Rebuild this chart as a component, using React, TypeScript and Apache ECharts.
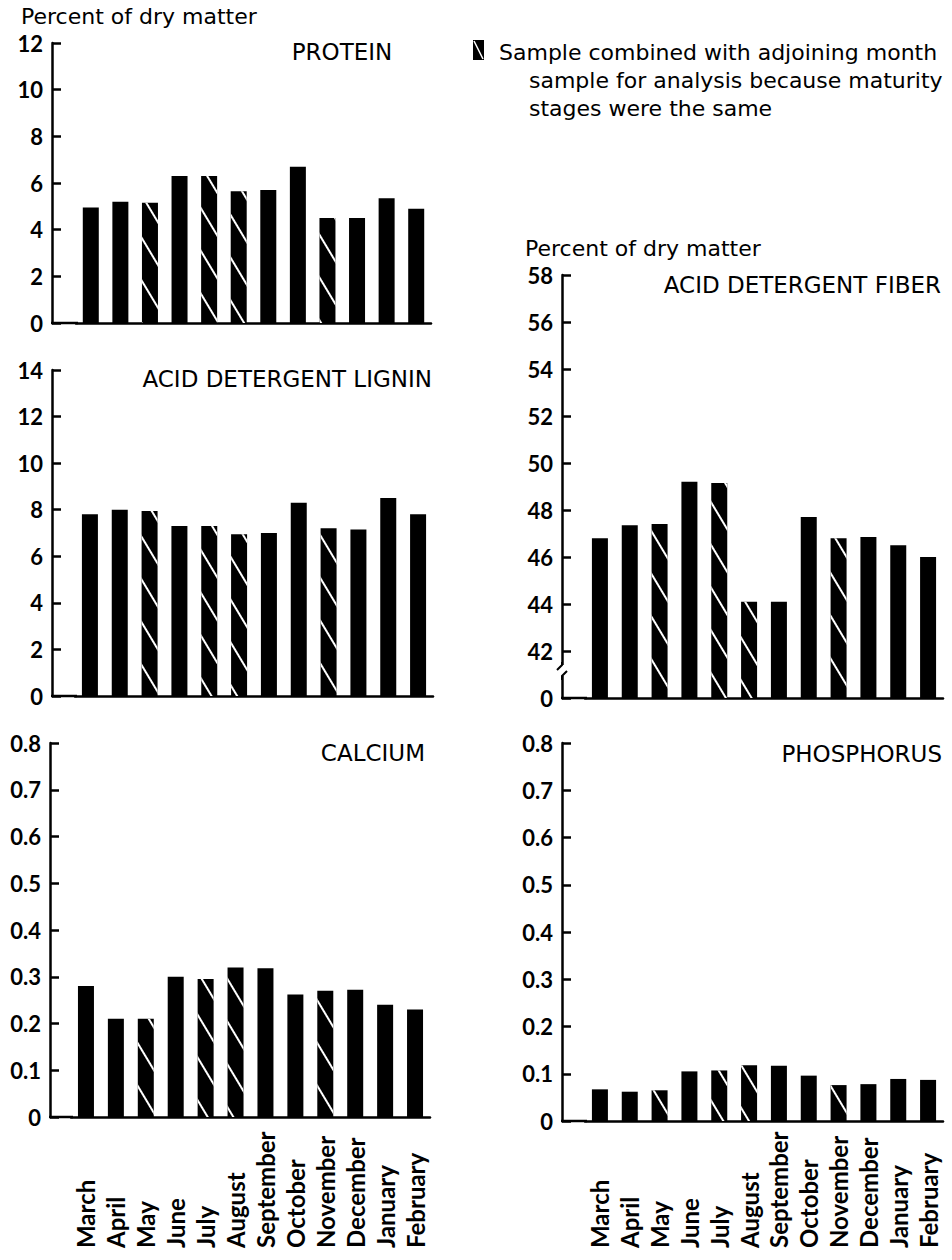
import React, { useEffect, useRef } from "react";
import * as echarts from "echarts";

const months = ["March", "April", "May", "June", "July", "August", "September", "October", "November", "December", "January", "February"];
const combinedMonths = ["May", "July", "August", "November"];

const proteinValues = [4.95, 5.2, 5.15, 6.3, 6.3, 5.65, 5.7, 6.7, 4.5, 4.5, 5.35, 4.9];
const ligninValues = [7.8, 8.0, 7.95, 7.3, 7.3, 6.95, 7.0, 8.3, 7.2, 7.15, 8.5, 7.8];
const calciumValues = [0.28, 0.21, 0.21, 0.3, 0.295, 0.32, 0.318, 0.262, 0.27, 0.272, 0.24, 0.23];
const fiberValues = [46.8, 47.35, 47.4, 49.2, 49.15, 44.1, 44.1, 47.7, 46.8, 46.85, 46.5, 46.0];
const phosphorusValues = [0.067, 0.062, 0.065, 0.105, 0.107, 0.118, 0.117, 0.096, 0.076, 0.078, 0.089, 0.087];

const legendLines = [
  "Sample combined with adjoining month",
  "sample for analysis because maturity",
  "stages were the same",
];
const unitLabel = "Percent of dry matter";

const TEXT_FONT = "'DejaVu Sans', sans-serif";
const NUM_FONT = "Lato, 'DejaVu Sans', sans-serif";

type Panel = {
  title: string;
  values: number[];
  min: number;
  max: number;
  interval: number;
  left: number;
  width: number;
  top: number;
  height: number;
  axisX: number;
  months: boolean;
  monthMargin?: number;
  titleX: number;
  titleY: number;
  titleAlign: string;
  zeroAt?: number;
  decimals: number;
};

const panels: Panel[] = [
  { title: "PROTEIN", values: proteinValues, min: 0, max: 12, interval: 2, left: 76, width: 355, top: 43, height: 280, axisX: 52, months: false, titleX: 342, titleY: 52, titleAlign: "center", decimals: 0 },
  { title: "ACID DETERGENT LIGNIN", values: ligninValues, min: 0, max: 14, interval: 2, left: 75, width: 358, top: 370, height: 326, axisX: 52, months: false, titleX: 432, titleY: 379, titleAlign: "right", decimals: 0 },
  { title: "CALCIUM", values: calciumValues, min: 0, max: 0.8, interval: 0.1, left: 71, width: 359, top: 743, height: 374, axisX: 50, months: true, monthMargin: 131, titleX: 425, titleY: 753, titleAlign: "right", decimals: 1 },
  { title: "ACID DETERGENT FIBER", values: fiberValues, min: 40, max: 58, interval: 2, left: 585, width: 358, top: 275, height: 423, axisX: 562, months: false, titleX: 941, titleY: 285, titleAlign: "right", zeroAt: 40, decimals: 0 },
  { title: "PHOSPHORUS", values: phosphorusValues, min: 0, max: 0.8, interval: 0.1, left: 585, width: 358, top: 743, height: 378, axisX: 562, months: true, monthMargin: 127, titleX: 942, titleY: 754, titleAlign: "right", decimals: 1 },
];

const hatch = {
  symbol: "rect",
  symbolSize: 1,
  color: "#ffffff",
  backgroundColor: "#000000",
  dashArrayX: [1, 0],
  dashArrayY: [2, 20],
  rotation: 1.03,
};

export default function App() {
  const ref = useRef<HTMLDivElement>(null);
  useEffect(() => {
    if (!ref.current) return;
    const chart = echarts.init(ref.current, null, { renderer: "svg" });
    const lineW = 2.5;

    const grid = panels.map((p) => ({ left: p.left, top: p.top, width: p.width, height: p.height, containLabel: false }));
    const xAxis = panels.map((p, i) => ({
      gridIndex: i,
      type: "category",
      data: months,
      boundaryGap: true,
      axisLine: { show: true, onZero: false, lineStyle: { color: "#000", width: lineW } },
      axisTick: { show: false },
      splitLine: { show: false },
      axisLabel: p.months
        ? { show: true, interval: 0, rotate: 90, align: "left", verticalAlign: "middle", margin: p.monthMargin, fontFamily: NUM_FONT, fontWeight: "bold", fontSize: 24, color: "#000" }
        : { show: false },
    }));
    const yAxis = panels.map((p, i) => ({
      gridIndex: i,
      type: "value",
      min: p.min,
      max: p.max,
      interval: p.interval,
      offset: p.left - p.axisX,
      axisLine: { show: true, onZero: false, lineStyle: { color: "#000", width: lineW } },
      axisTick: { show: true, inside: true, length: 9, lineStyle: { color: "#000", width: lineW } },
      splitLine: { show: false },
      axisLabel: {
        margin: 9,
        fontFamily: NUM_FONT,
        fontWeight: "bold",
        fontSize: 22,
        color: "#000",
        formatter: (v: number) => {
          if (p.zeroAt !== undefined && Math.abs(v - p.zeroAt) < 1e-9) return "0";
          if (Math.abs(v) < 1e-9) return "0";
          return v.toFixed(p.decimals);
        },
      },
    }));
    const series = panels.map((p, i) => ({
      type: "bar",
      xAxisIndex: i,
      yAxisIndex: i,
      barWidth: 16,
      itemStyle: { color: "#000" },
      data: p.values.map((v, j) =>
        combinedMonths.includes(months[j]) ? { value: v, itemStyle: { color: "#000", decal: hatch } } : { value: v }
      ),
    }));

    const graphic: any[] = [];
    panels.forEach((p) => {
      const baseY = p.top + p.height;
      graphic.push({ type: "rect", z: 10, shape: { x: p.axisX - 1, y: baseY - 1.25, width: p.left - p.axisX + 3, height: 2.5 }, style: { fill: "#000" } });
      graphic.push({
        type: "text",
        x: p.titleX,
        y: p.titleY,
        style: { text: p.title, fill: "#000", font: `23px ${TEXT_FONT}`, textAlign: p.titleAlign, textVerticalAlign: "middle" },
      });
    });
    // axis break on fiber panel
    const fb = panels[3];
    graphic.push({ type: "rect", z: 10, shape: { x: fb.axisX - 5, y: 665, width: 10, height: 11 }, style: { fill: "#fff" } });
    graphic.push({ type: "polyline", z: 11, shape: { points: [[fb.axisX, 662], [fb.axisX, 665], [fb.axisX - 5, 670]] }, style: { stroke: "#000", lineWidth: 2, fill: null } });
    graphic.push({ type: "polyline", z: 11, shape: { points: [[fb.axisX + 5, 671], [fb.axisX, 676], [fb.axisX, 680]] }, style: { stroke: "#000", lineWidth: 2, fill: null } });
    // unit labels
    graphic.push({ type: "text", x: 21, y: 16, style: { text: unitLabel, fill: "#000", font: `22px ${TEXT_FONT}`, textVerticalAlign: "middle" } });
    graphic.push({ type: "text", x: 525, y: 248, style: { text: unitLabel, fill: "#000", font: `22px ${TEXT_FONT}`, textVerticalAlign: "middle" } });
    // legend
    graphic.push({ type: "rect", shape: { x: 473, y: 40, width: 11, height: 20 }, style: { fill: "#000" } });
    graphic.push({ type: "line", shape: { x1: 474, y1: 41, x2: 483, y2: 59 }, style: { stroke: "#fff", lineWidth: 1.5 } });
    legendLines.forEach((t, k) => {
      graphic.push({
        type: "text",
        x: k === 0 ? 499 : 529,
        y: 52 + k * 28,
        style: { text: t, fill: "#000", font: `22px ${TEXT_FONT}`, textVerticalAlign: "middle" },
      });
    });

    chart.setOption({
      animation: false,
      backgroundColor: "#ffffff",
      grid,
      xAxis,
      yAxis,
      series,
      graphic,
    } as any);
    return () => chart.dispose();
  }, []);
  return <div ref={ref} style={{ position: "absolute", left: 0, top: 0, width: 952, height: 1260, background: "#fff" }} />;
}
